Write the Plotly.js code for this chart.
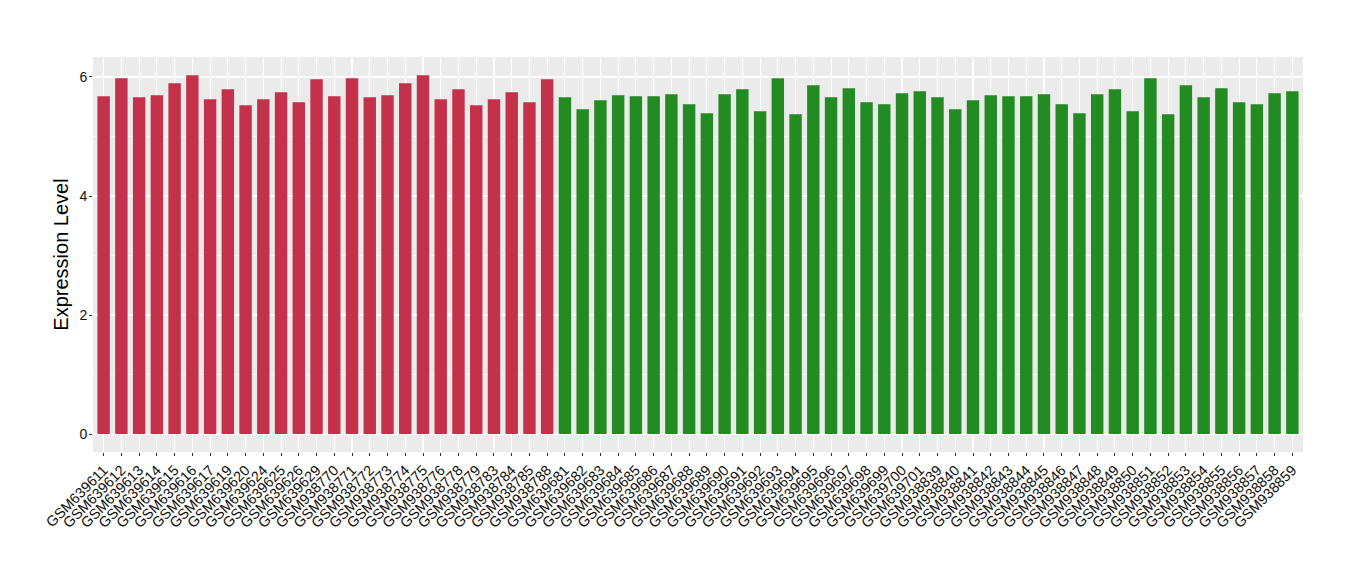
<!DOCTYPE html>
<html>
<head>
<meta charset="utf-8">
<script src="https://cdn.plot.ly/plotly-3.0.1.min.js"></script>
<style>html,body{margin:0;padding:0;background:#fff;}#chart{width:1360px;height:580px;}</style>
</head>
<body>
<div id="chart"></div>
<script>
const redSamples = ["GSM639611","GSM639612","GSM639613","GSM639614","GSM639615","GSM639616","GSM639617","GSM639619","GSM639620","GSM639624","GSM639625","GSM639626","GSM639629","GSM938770","GSM938771","GSM938772","GSM938773","GSM938774","GSM938775","GSM938776","GSM938778","GSM938779","GSM938783","GSM938784","GSM938785","GSM938788"];
const redValues = [5.676,5.978,5.659,5.693,5.894,6.029,5.626,5.793,5.525,5.626,5.743,5.575,5.961,5.676,5.978,5.659,5.693,5.894,6.029,5.626,5.793,5.525,5.626,5.743,5.575,5.961];
const greenSamples = ["GSM639681","GSM639682","GSM639683","GSM639684","GSM639685","GSM639686","GSM639687","GSM639688","GSM639689","GSM639690","GSM639691","GSM639692","GSM639693","GSM639694","GSM639695","GSM639696","GSM639697","GSM639698","GSM639699","GSM639700","GSM639701","GSM938839","GSM938840","GSM938841","GSM938842","GSM938843","GSM938844","GSM938845","GSM938846","GSM938847","GSM938848","GSM938849","GSM938850","GSM938851","GSM938852","GSM938853","GSM938854","GSM938855","GSM938856","GSM938857","GSM938858","GSM938859"];
const greenValues = [5.659,5.458,5.609,5.693,5.676,5.676,5.709,5.542,5.390,5.709,5.793,5.424,5.978,5.374,5.861,5.659,5.810,5.575,5.542,5.726,5.760,5.659,5.458,5.609,5.693,5.676,5.676,5.709,5.542,5.390,5.709,5.793,5.424,5.978,5.374,5.861,5.659,5.810,5.575,5.542,5.726,5.760];
const yTicks = [0,2,4,6];

const allSamples = redSamples.concat(greenSamples);

const traces = [
  {type:'bar', x: redSamples, y: redValues, marker:{color:'#C3314A'}, width:0.7, hoverinfo:'x+y'},
  {type:'bar', x: greenSamples, y: greenValues, marker:{color:'#228B22'}, width:0.7, hoverinfo:'x+y'}
];

const layout = {
  width:1360, height:580,
  margin:{l:93, r:57, t:57, b:128, pad:0},
  paper_bgcolor:'#ffffff',
  plot_bgcolor:'#EBEBEB',
  showlegend:false,
  barmode:'overlay',
  font:{family:'Liberation Sans, Arial, sans-serif', color:'#1a1a1a'},
  xaxis:{
    type:'category',
    categoryorder:'array', categoryarray: allSamples,
    range:[-0.6, allSamples.length - 0.4],
    tickangle:-45,
    tickfont:{size:14.5, color:'#111'},
    ticks:'outside', ticklen:3, tickcolor:'#333', tickwidth:1,
    showgrid:true, gridcolor:'#ffffff', gridwidth:1.1,
    zeroline:false, showline:false, fixedrange:true
  },
  yaxis:{
    range:[-0.302, 6.336],
    tickvals: yTicks,
    ticktext: yTicks.map(String),
    tickfont:{size:14, color:'#111'},
    ticks:'outside', ticklen:3, tickcolor:'#333', tickwidth:1,
    ticklabelstandoff:-1,
    showgrid:true, gridcolor:'#ffffff', gridwidth:1.1,
    minor:{dtick:1, tick0:0, showgrid:true, gridcolor:'#ffffff', gridwidth:0.5, ticks:''},
    zeroline:false, showline:false,
    title:{text:'Expression Level', font:{size:20, color:'#000'}, standoff:5}
  }
};

Plotly.newPlot('chart', traces, layout, {displayModeBar:false, staticPlot:true});
</script>
</body>
</html>
